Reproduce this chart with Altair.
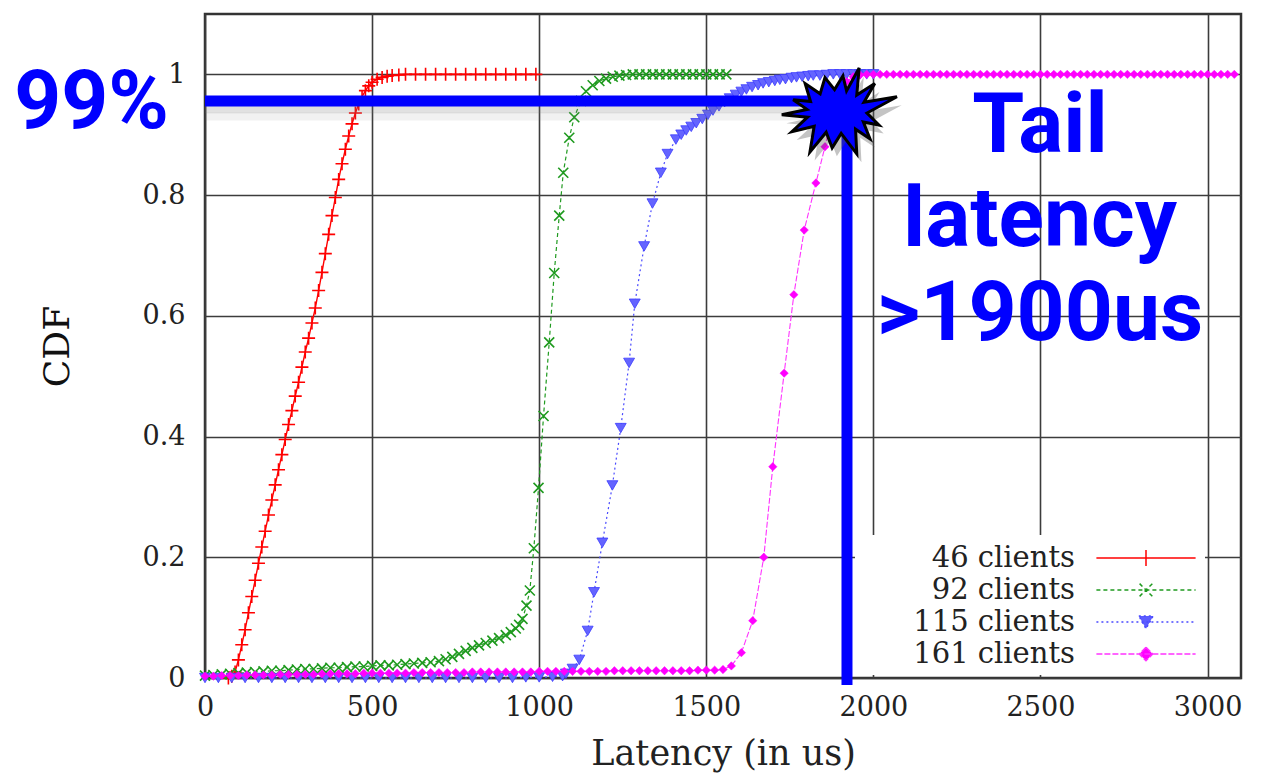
import altair as alt
import pandas as pd

# ---------------- data ----------------
names = ["46 clients", "92 clients", "115 clients", "161 clients"]

red_x = [70, 80, 90, 100, 110, 120, 130, 140, 150, 160, 170, 180, 190, 200, 210, 220,
         230, 240, 250, 260, 270, 280, 290, 300, 310, 320, 330, 340, 350, 360, 370, 380,
         390, 400, 410, 420, 430, 440, 450, 460, 470, 480, 490, 500, 515, 530, 545, 560,
         580, 600, 630, 660, 690, 720, 750, 780, 810, 840, 870, 900, 930, 960, 990]
red_y = [0.0, 0.003, 0.01, 0.03, 0.055, 0.08, 0.108, 0.135, 0.162, 0.19, 0.217, 0.243,
         0.27, 0.295, 0.32, 0.345, 0.37, 0.395, 0.42, 0.443, 0.467, 0.49, 0.515, 0.54,
         0.563, 0.588, 0.613, 0.642, 0.672, 0.703, 0.735, 0.766, 0.796, 0.826, 0.852,
         0.876, 0.898, 0.918, 0.936, 0.951, 0.963, 0.973, 0.981, 0.987, 0.992, 0.995,
         0.997, 0.998, 0.999, 1.0, 1.0, 1.0, 1.0, 1.0, 1.0, 1.0, 1.0, 1.0, 1.0, 1.0,
         1.0, 1.0, 1.0]

green_x = [0, 25, 50, 75, 100, 125, 150, 175, 200, 225, 250, 275, 300, 325, 350, 375,
           400, 425, 450, 475, 500, 525, 550, 575, 600, 625, 650, 675, 700,
           720, 740, 760, 780, 800, 820, 840, 860, 880, 900, 915, 930, 940, 950, 962,
           972, 984, 998, 1013, 1030, 1045, 1060, 1072, 1090, 1105, 1125, 1140, 1160,
           1180, 1200, 1220, 1240,
           1260, 1280, 1300, 1320, 1340, 1360, 1380, 1400, 1420, 1440, 1460, 1480,
           1500, 1520, 1540, 1560]
green_y = [0.004, 0.005, 0.006, 0.007, 0.008, 0.009, 0.01, 0.011, 0.012, 0.012, 0.013,
           0.014, 0.015, 0.015, 0.016, 0.017, 0.017, 0.018, 0.019, 0.019, 0.02, 0.021,
           0.021, 0.022, 0.023, 0.024, 0.025, 0.026, 0.028,
           0.031, 0.035, 0.04, 0.045, 0.05, 0.054, 0.058, 0.062, 0.066, 0.071, 0.076,
           0.082, 0.088, 0.098, 0.12, 0.145, 0.215, 0.315, 0.434, 0.556, 0.671, 0.766,
           0.837, 0.895, 0.929, 0.956, 0.972, 0.982, 0.989, 0.993, 0.996, 0.998,
           0.999, 1.0, 1.0, 1.0, 1.0, 1.0, 1.0, 1.0, 1.0, 1.0, 1.0, 1.0, 1.0, 1.0,
           1.0, 1.0]

blue_x = [0, 40, 80, 120, 160, 200, 240, 280, 320, 360, 400, 440, 480, 520, 560, 600,
          640, 680, 720, 760, 800, 840, 880, 920, 960, 1000, 1040,
          1070, 1080, 1100, 1120, 1145, 1164, 1189, 1219, 1244, 1269, 1286, 1314, 1339,
          1364, 1384, 1409, 1425, 1440, 1455, 1470, 1488, 1505, 1520, 1538, 1555, 1570,
          1588, 1605, 1620, 1637, 1655, 1670, 1687, 1705, 1720, 1737, 1755, 1770, 1787,
          1805, 1820, 1840, 1860, 1880, 1900, 1920, 1940, 1960, 1980, 2000]
blue_y = [0.0, 0.0, 0.0, 0.0, 0.0, 0.0, 0.0, 0.0, 0.0, 0.0, 0.0, 0.0, 0.0, 0.0, 0.0,
          0.0, 0.0, 0.0, 0.0, 0.0, 0.0, 0.0, 0.0, 0.0, 0.001, 0.001, 0.002,
          0.003, 0.007, 0.015, 0.03, 0.078, 0.142, 0.224, 0.319, 0.414, 0.522, 0.62,
          0.715, 0.786, 0.837, 0.868, 0.892, 0.9, 0.907, 0.913, 0.919, 0.926, 0.933,
          0.94, 0.947, 0.954, 0.96, 0.966, 0.971, 0.975, 0.979, 0.982, 0.985, 0.987,
          0.989, 0.991, 0.992, 0.994, 0.995, 0.996, 0.997, 0.998, 0.998, 0.999, 1.0,
          1.0, 1.0, 1.0, 1.0, 1.0, 1.0]

mag_x = [0, 25, 50, 75, 100, 125, 150, 175, 200, 225, 250, 275, 300, 325, 350, 375,
         400, 425, 450, 475, 500, 525, 550, 575, 600, 625, 650, 675, 700, 725, 750, 775,
         800, 825, 850, 875, 900, 925, 950, 975, 1000, 1025, 1050, 1075, 1100, 1125,
         1150, 1175, 1200, 1225, 1250, 1275, 1300, 1325, 1350, 1375, 1400, 1425, 1450,
         1475, 1500, 1525, 1550,
         1575, 1605, 1639, 1672, 1699, 1733, 1762, 1793, 1828, 1855, 1872, 1890, 1905,
         1920, 1940, 1960,
         1980, 2000, 2020, 2040, 2060, 2080, 2100, 2120, 2140, 2160, 2180, 2200, 2220,
         2240, 2260, 2280, 2300, 2320, 2340, 2360, 2380, 2400, 2420, 2440, 2460, 2480,
         2500, 2520, 2540, 2560, 2580, 2600, 2620, 2640, 2660, 2680, 2700, 2720, 2740,
         2760, 2780, 2800, 2820, 2840, 2860, 2880, 2900, 2920, 2940, 2960, 2980, 3000,
         3020, 3040, 3060, 3080]
mag_y = [0.003, 0.003, 0.004, 0.004, 0.004, 0.005, 0.005, 0.005, 0.005, 0.006, 0.006,
         0.006, 0.006, 0.006, 0.007, 0.007, 0.007, 0.007, 0.007, 0.008, 0.008, 0.008,
         0.008, 0.008, 0.008, 0.009, 0.009, 0.009, 0.009, 0.009, 0.009, 0.009, 0.01,
         0.01, 0.01, 0.01, 0.01, 0.01, 0.01, 0.01, 0.011, 0.011, 0.011, 0.011, 0.011,
         0.011, 0.011, 0.011, 0.011, 0.012, 0.012, 0.012, 0.012, 0.012, 0.012, 0.012,
         0.012, 0.012, 0.012, 0.013, 0.013, 0.013, 0.014,
         0.02, 0.042, 0.095, 0.2, 0.35, 0.505, 0.635, 0.742, 0.82, 0.88, 0.92, 0.955,
         0.975, 0.988, 0.996, 0.999,
         1.0, 1.0, 1.0, 1.0, 1.0, 1.0, 1.0, 1.0, 1.0, 1.0, 1.0, 1.0, 1.0, 1.0, 1.0,
         1.0, 1.0, 1.0, 1.0, 1.0, 1.0, 1.0, 1.0, 1.0, 1.0, 1.0, 1.0, 1.0, 1.0, 1.0,
         1.0, 1.0, 1.0, 1.0, 1.0, 1.0, 1.0, 1.0, 1.0, 1.0, 1.0, 1.0, 1.0, 1.0, 1.0,
         1.0, 1.0, 1.0, 1.0, 1.0, 1.0, 1.0, 1.0, 1.0, 1.0, 1.0, 1.0, 1.0, 1.0, 1.0,
         1.0, 1.0, 1.0, 1.0, 1.0]

x_ticks = [0, 500, 1000, 1500, 2000, 2500, 3000]
y_ticks = [0, 0.2, 0.4, 0.6, 0.8, 1.0]

# annotation values
p99_level = [0.956]
tail_latency = [1921]
star_pos_x = [1891]
star_pos_y = [0.938]
label_99 = ["99%"]
label_tail = ["Tail", "latency", ">1900us"]

# ---------------- build table ----------------
rows = []
for nm, xs, ys in zip(names, [red_x, green_x, blue_x, mag_x], [red_y, green_y, blue_y, mag_y]):
    for a, b in zip(xs, ys):
        rows.append({"series": nm, "x": a, "y": b})
df = pd.DataFrame(rows)

line_colors = ["#ff0000", "#1f9a1f", "#4a4aff", "#ff33ff"]
fill_colors = ["#ff0000", "#1f9a1f", "#5c5cff", "#ff00ff"]
dashes = [[1, 0], [4, 3], [2, 3], [6, 2]]
line_widths = [1.4, 1.2, 1.2, 1.1]
glyphs = [
    "M-3.1,0H3.1M0,-0.5V0.5",
    "M-3.1,0H3.1M-0.4,-0.4L0.4,0.4M-0.4,0.4L0.4,-0.4",
    "M-3.1,0H3.1M-0.45,-0.38L0.45,-0.38L0,0.42Z",
    "M-3.1,0H3.1M0,-0.42L0.42,0L0,0.42L-0.42,0Z",
]

serif = "DejaVu Serif"
xscale = alt.Scale(domain=[0, 3100], nice=False, zero=False)
yscale = alt.Scale(domain=[0, 1.1], nice=False)

xaxis = alt.Axis(values=x_ticks, format="d", title="Latency (in us)", grid=True,
                 ticks=False, tickSize=0, domain=False, labelFlush=False,
                 labelFont=serif, labelFontSize=27, labelColor="#222222",
                 labelPadding=16, titleFont=serif, titleFontSize=35,
                 titleFontWeight="normal", titleColor="#222222", titlePadding=16,
                 gridColor="#3c3c3c", gridWidth=1.6)
yaxis = alt.Axis(values=y_ticks, format="~g", title="CDF", grid=True, ticks=False,
                 tickSize=0, domain=False, labelFont=serif, labelFontSize=27,
                 labelColor="#222222", labelPadding=20, titleFont=serif,
                 titleFontSize=36, titleFontWeight="normal", titleColor="#111111",
                 titlePadding=66, gridColor="#3c3c3c", gridWidth=1.6)

X = alt.X("x:Q", scale=xscale, axis=xaxis)
Y = alt.Y("y:Q", scale=yscale, axis=yaxis)

leg = alt.Legend(title=None, orient="none", legendX=650, legendY=521,
                 direction="vertical", fillColor="white", padding=6,
                 labelFont=serif, labelFontSize=29, labelColor="#222222",
                 labelAlign="right", labelBaseline="middle",
                 labelOffset={"expr": "-88"},
                 labelLimit=400, symbolOffset=268, symbolSize=1024,
                 symbolStrokeWidth=1.5, rowPadding=0)

line_layers = []
for nm, col, dash, lw in zip(names, line_colors, dashes, line_widths):
    line_layers.append(
        alt.Chart(df).transform_filter(alt.datum.series == nm)
        .mark_line(color=col, strokeDash=dash, strokeWidth=lw).encode(x=X, y=Y)
    )

marker_specs = [
    dict(shape="M-1,0H1M0,-1V1", filled=False, color="#ff0000", size=169, strokeWidth=1.6),
    dict(shape="M-1,-1L1,1M-1,1L1,-1", filled=False, color="#1f9a1f", size=100, strokeWidth=1.6),
    dict(shape="triangle-down", filled=True, fill="#6464ff", stroke="#3c3cff", size=120, strokeWidth=0.8),
    dict(shape="diamond", filled=True, fill="#ff00ff", stroke="#ff00ff", size=70, strokeWidth=0.5),
]
point_layers = []
for nm, spec in zip(names, marker_specs):
    point_layers.append(
        alt.Chart(df).transform_filter(alt.datum.series == nm)
        .mark_point(opacity=1, **spec).encode(x=X, y=Y)
    )

# legend-only layer (draws nothing, supplies the key)
legend_layer = alt.Chart(df).transform_filter("datum.x < -1000").mark_point(
    filled=True, opacity=1, strokeWidth=1.5
).encode(
    x=X, y=Y,
    shape=alt.Shape("series:N", scale=alt.Scale(domain=names, range=glyphs), legend=leg),
    fill=alt.Fill("series:N", scale=alt.Scale(domain=names, range=fill_colors), legend=leg),
    stroke=alt.Stroke("series:N", scale=alt.Scale(domain=names, range=line_colors), legend=leg),
    strokeDash=alt.StrokeDash("series:N", scale=alt.Scale(domain=names, range=dashes), legend=leg),
)

ann_h = pd.DataFrame({"x": [0], "x2": star_pos_x, "y": p99_level})
ann_v = pd.DataFrame({"x": tail_latency, "y": [-0.0116], "y2": star_pos_y})
ann_star = pd.DataFrame({"x": star_pos_x, "y": star_pos_y})

shadow1 = alt.Chart(ann_h).transform_calculate(ys="datum.y - 0.014").mark_rule(
    color="#777777", opacity=0.22, strokeWidth=8, strokeCap="butt"
).encode(x=X, x2="x2:Q", y=alt.Y("ys:Q", scale=yscale, axis=yaxis))
shadow2 = alt.Chart(ann_h).transform_calculate(ys="datum.y - 0.026").mark_rule(
    color="#777777", opacity=0.1, strokeWidth=8, strokeCap="butt"
).encode(x=X, x2="x2:Q", y=alt.Y("ys:Q", scale=yscale, axis=yaxis))

hline = alt.Chart(ann_h).mark_rule(color="#0000ff", strokeWidth=11, strokeCap="butt").encode(
    x=X, x2="x2:Q", y=Y)
vline = alt.Chart(ann_v).mark_rule(color="#0000ff", strokeWidth=11, strokeCap="butt").encode(
    x=X, y=Y, y2="y2:Q")

star_path = ("M1.0,-0.25L0.5,0.02L0.7,0.22L0.44,0.17L0.55,0.45L0.31,0.29L0.33,0.7"
             "L0.07,0.36L-0.08,0.6L-0.18,0.34L-0.45,0.67L-0.38,0.24L-0.75,0.33L-0.49,0.09"
             "L-0.92,0.05L-0.5,-0.04L-0.73,-0.2L-0.44,-0.17L-0.53,-0.47L-0.28,-0.3"
             "L-0.2,-0.57L-0.04,-0.37L0.1,-0.6L0.16,-0.35L0.37,-0.73L0.33,-0.28"
             "L0.63,-0.47L0.45,-0.16Z")
star_shadow = alt.Chart(ann_star).transform_calculate(
    xs="datum.x + 14", ys="datum.y - 0.014").mark_point(
    shape=star_path, filled=True, fill="#555555", opacity=0.35, size=14400, strokeWidth=0
).encode(x=alt.X("xs:Q", scale=xscale, axis=xaxis), y=alt.Y("ys:Q", scale=yscale, axis=yaxis))
star = alt.Chart(ann_star).mark_point(
    shape=star_path, filled=True, fill="#0000ff", stroke="#000000", strokeWidth=3,
    opacity=1, size=14400, strokeJoin="miter"
).encode(x=X, y=Y)

ann_font = "Roboto"
txt99 = alt.Chart(pd.DataFrame({"t": label_99})).mark_text(
    font=ann_font, fontSize=82, fontWeight="bold", color="#0000ff",
    align="right", baseline="alphabetic"
).encode(text="t:N", x=alt.value(-36), y=alt.value(114))
txt_tail = alt.Chart(pd.DataFrame({"t": ["tail"]})).mark_text(
    text=label_tail, font=ann_font, fontSize=84, fontWeight="bold", color="#0000ff",
    align="center", baseline="alphabetic", lineHeight=94
).encode(x=alt.value(835), y=alt.value(138))

chart = alt.layer(
    *line_layers, *point_layers, legend_layer, shadow1, shadow2, hline, vline,
    star_shadow, star, txt99, txt_tail
).properties(
    width=1036, height=664,
    autosize=alt.AutoSizeParams(type="none"),
    padding={"left": 197, "top": 6, "right": 15, "bottom": 100},
    background="white",
).configure_view(stroke="#333333", strokeWidth=2.5)

chart.save("out.html", embed_options={"renderer": "svg", "actions": False})
